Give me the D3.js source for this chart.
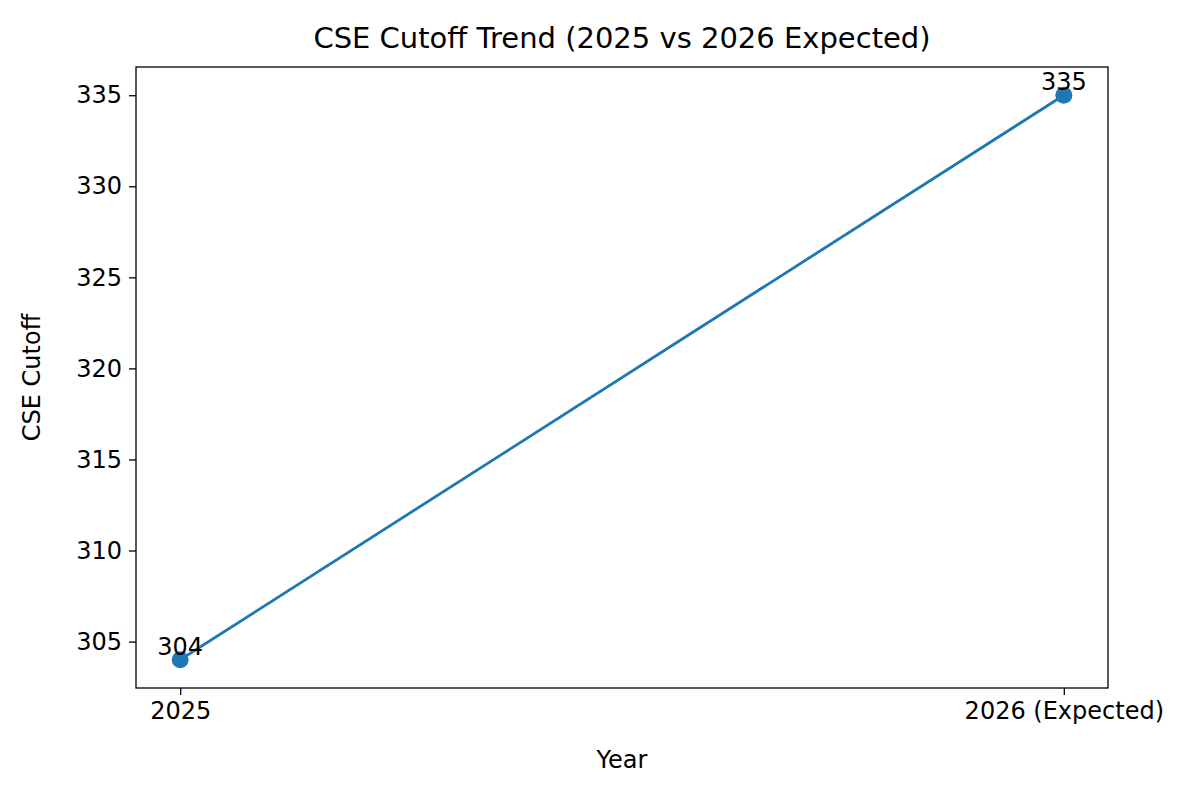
<!DOCTYPE html>
<html><head><meta charset="utf-8">
<script src="https://cdn.jsdelivr.net/npm/d3@7"></script>
<style>body{margin:0;background:#fff}text{font-family:"DejaVu Sans",sans-serif;fill:#000}</style>
</head><body><svg id="c" width="1200" height="795"></svg>
<script>
const categories = ["2025", "2026 (Expected)"];
const values = [304, 335];
const yTicks = [305, 310, 315, 320, 325, 330, 335];

const L=136,R=1108,T=67,B=688;
const svg=d3.select("#c");
const x=d3.scaleLinear().domain([-0.05,1.05]).range([L,R]);
const y=d3.scaleLinear().domain([302.45,336.55]).range([B,T]);
const color="#1f77b4";
const fs="24px";

const xa=svg.append("g").attr("transform",`translate(0,${B})`)
 .call(d3.axisBottom(x).tickValues([0,1]).tickFormat(i=>categories[i]).tickSize(7).tickPadding(7));
const ya=svg.append("g").attr("transform",`translate(${L},0)`)
 .call(d3.axisLeft(y).tickValues(yTicks).tickSize(7).tickPadding(7));
[xa,ya].forEach(a=>{a.select(".domain").remove();a.selectAll("text").style("font-size",fs).style("font-family","DejaVu Sans");a.selectAll("line").attr("stroke","#000").attr("stroke-width",1.3);});
svg.append("rect").attr("x",L).attr("y",T).attr("width",R-L).attr("height",B-T).attr("fill","none").attr("stroke","#000").attr("stroke-width",1.3);

svg.append("path").datum(values).attr("fill","none").attr("stroke",color).attr("stroke-width",2.8)
 .attr("d",d3.line().x((d,i)=>x(i)).y(d=>y(d)));
svg.selectAll("circle.p").data(values).join("circle").attr("cx",(d,i)=>x(i)).attr("cy",d=>y(d)).attr("r",8.5).attr("fill",color);
svg.selectAll("text.lab").data(values).join("text").attr("x",(d,i)=>x(i)).attr("y",d=>y(d)-5)
 .attr("text-anchor","middle").style("font-size",fs).text(d=>d);

svg.append("text").attr("x",(L+R)/2).attr("y",48).attr("text-anchor","middle").style("font-size","29px").text("CSE Cutoff Trend (2025 vs 2026 Expected)");
svg.append("text").attr("x",(L+R)/2).attr("y",768).attr("text-anchor","middle").style("font-size",fs).text("Year");
svg.append("text").attr("transform",`translate(40,${(T+B)/2}) rotate(-90)`).attr("text-anchor","middle").style("font-size",fs).text("CSE Cutoff");
</script></body></html>
